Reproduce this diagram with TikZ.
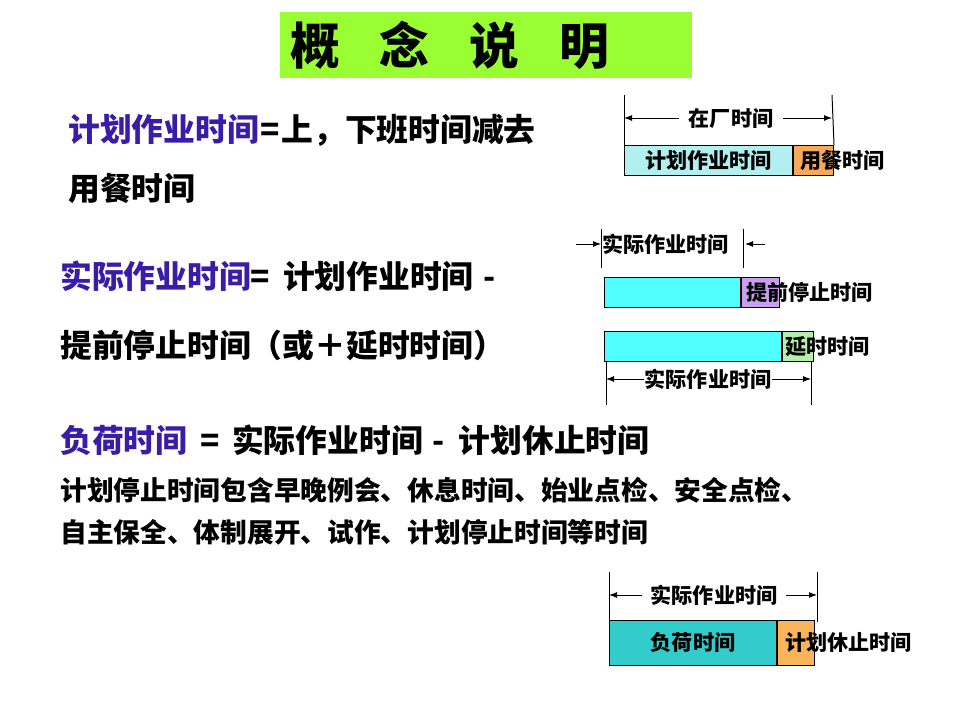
\documentclass[tikz,border=0pt]{standalone}
\usepackage{fontspec}
\setmainfont{Noto Sans CJK SC}
\usetikzlibrary{arrows.meta}
\usetikzlibrary{positioning}

\begin{document}
\begin{tikzpicture}[>={Latex[length=2mm,width=1.5mm]}, x=0.025cm, y=-0.025cm]

		% Colors
		\definecolor{TitleGreen}{RGB}{153,255,51}
		\definecolor{TermPurple}{RGB}{58,28,168}
		\definecolor{PaleCyan}{RGB}{178,240,240}
		\definecolor{MealOrange}{RGB}{247,168,90}
		\definecolor{BrightCyan}{RGB}{80,255,255}
		\definecolor{StopPurple}{RGB}{200,160,240}
		\definecolor{ExtraGreen}{RGB}{180,240,170}
		\definecolor{LoadTeal}{RGB}{51,204,204}
		\definecolor{RestOrange}{RGB}{250,180,90}

		% Styles
		\tikzset{
			big/.style={font=\fontsize{22.6}{27}\selectfont\bfseries, inner sep=0pt, anchor=west},
			note/.style={font=\fontsize{19}{22}\selectfont\bfseries, inner sep=0pt, anchor=west},
			lbl/.style={font=\fontsize{15}{18}\selectfont\bfseries, inner sep=0pt},
			bar/.style={draw=black, line width=0.7pt, inner sep=0pt, anchor=north west,
				minimum height=0.75cm},
			dim/.style={line width=0.7pt},
			arr/.style={->, line width=0.7pt}
		}

		\useasboundingbox (0,0) rectangle (960,720);

		% Title
		\node[fill=TitleGreen, anchor=north west, minimum width=10.3cm, minimum height=1.65cm,
			text width=9.8cm, inner xsep=0.25cm, inner ysep=0pt, align=left,
			font=\fontsize{35.4}{40}\selectfont\bfseries] (title) at (280,12)
		{概\hspace{0.8em}念\hspace{0.8em}说\hspace{0.8em}明};

		% Definitions
		\node[big] (planA) at (68,130)
		{\textcolor{TermPurple}{计划作业时间}\hspace{0.05em}=\hspace{0.05em}上，下班时间减去};
		\node[big] (planB) at (68,189) {用餐时间};
		\node[big] (actA) at (60,276)
		{\textcolor{TermPurple}{实际作业时间}=\hspace{0.4em}计划作业时间\hspace{0.3em}-};
		\node[big] (actB) at (60,345) {提前停止时间（或＋延时时间）};
		\node[big] (loadA) at (60,440)
		{\textcolor{TermPurple}{负荷时间}\hspace{0.4em}=\hspace{0.4em}实际作业时间\hspace{0.3em}-\hspace{0.45em}计划休止时间};
		\node[note] (loadB) at (60,490) {计划停止时间包含早晚例会、休息时间、始业点检、安全点检、};
		\node[note] (loadC) at (60,532) {自主保全、体制展开、试作、计划停止时间等时间};

		% Diagram 1: factory time
		\node[bar, lbl, fill=PaleCyan, minimum width=4.2cm] (plan) at (624,145) {计划作业时间};
		\node[bar, fill=MealOrange, minimum width=1cm] (meal) at (plan.north east) {};
		\node[lbl, anchor=west, right=0.17cm of meal.west] (mealLbl) {用餐时间};
		\coordinate (L1top) at (624,95);
		\coordinate (R1top) at (832,95);
		\draw[dim] (L1top) -- (plan.north west);
		\draw[dim] (R1top) -- (meal.north east);
		\node[lbl, inner xsep=0.25cm] (factory) at (731,118) {在厂时间};
		\draw[arr] (factory.west) -- (L1top |- factory.west);
		\draw[arr] (factory.east) -- (R1top |- factory.east);

		% Diagram 2: actual working time
		\node[lbl, anchor=west] (actTop) at (602,244) {实际作业时间};
		\coordinate (L2top) at (601,229);
		\coordinate (L2bot) at (601,268);
		\coordinate (R2top) at (743,229);
		\coordinate (R2bot) at (743,268);
		\draw[dim] (L2top) -- (L2bot);
		\draw[dim] (R2top) -- (R2bot);
		\coordinate (inL) at (576,244);
		\coordinate (inR) at (765,244);
		\draw[arr] (inL) -- (L2top |- inL);
		\draw[arr] (inR) -- ([xshift=0.05cm]R2top |- inR);

		\node[bar, fill=BrightCyan, minimum width=3.4cm] (early) at (604,277) {};
		\node[bar, fill=StopPurple, minimum width=0.95cm] (stop) at (early.north east) {};
		\node[lbl, anchor=west, right=0.12cm of stop.west] (stopLbl) {提前停止时间};

		\node[bar, fill=BrightCyan, minimum width=4.425cm] (late) at (604,331) {};
		\node[bar, fill=ExtraGreen, minimum width=0.775cm] (extra) at (late.north east) {};
		\node[lbl, anchor=west, right=0.08cm of extra.west] (extraLbl) {延时时间};

		\coordinate (L3top) at (606,361);
		\coordinate (L3bot) at (606,405);
		\coordinate (R3top) at (811,361);
		\coordinate (R3bot) at (811,405);
		\draw[dim] (L3top) -- (L3bot);
		\draw[dim] (R3top) -- (R3bot);
		\node[lbl] (actBot) at (708,379) {实际作业时间};
		\draw[arr] (actBot.west) -- (L3top |- actBot.west);
		\draw[arr] (actBot.east) -- (R3top |- actBot.east);

		% Diagram 3: load time
		\node[bar, lbl, fill=LoadTeal, minimum width=4.175cm, minimum height=1.125cm] (load) at (609,620) {负荷时间};
		\node[bar, fill=RestOrange, minimum width=0.925cm, minimum height=1.125cm] (rest) at (load.north east) {};
		\node[lbl, anchor=west, right=0.2cm of rest.west] (restLbl) {计划休止时间};
		\coordinate (L4top) at (609,572);
		\coordinate (R4top) at (817,572);
		\coordinate (R4bot) at (817,622);
		\draw[dim] (L4top) -- (load.north west);
		\draw[dim] (R4top) -- (R4bot);
		\node[lbl, inner xsep=0.2cm] (actLoad) at (714,595) {实际作业时间};
		\draw[arr] (actLoad.west) -- (L4top |- actLoad.west);
		\draw[arr] (actLoad.east) -- (R4top |- actLoad.east);

	\end{tikzpicture}
\end{document}
